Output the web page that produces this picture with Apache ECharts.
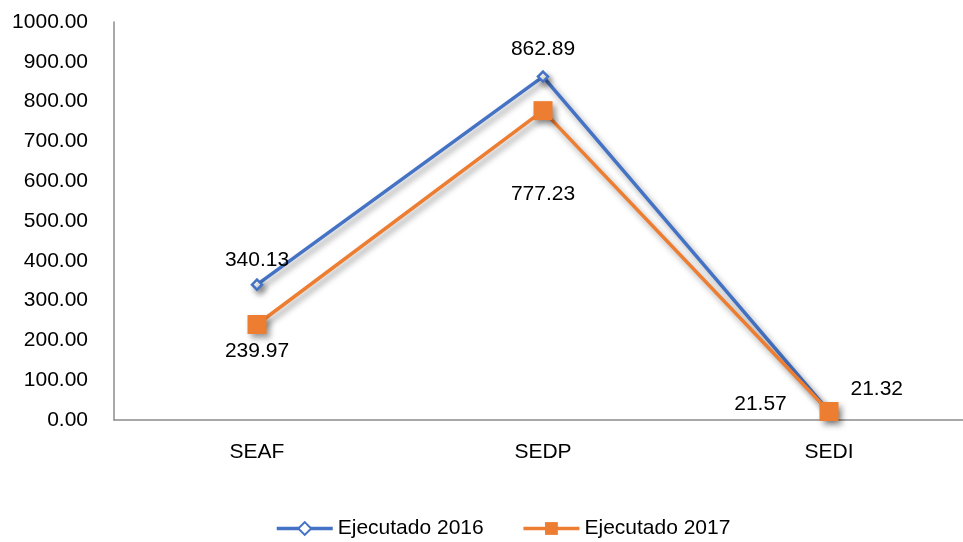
<!DOCTYPE html>
<html>
<head>
<meta charset="utf-8">
<script src="https://cdn.jsdelivr.net/npm/echarts@6/dist/echarts.min.js"></script>
<style>
  html, body { margin: 0; padding: 0; background: #fff; }
  #main { width: 963px; height: 542px; }
</style>
</head>
<body>
<div id="main"></div>
<script>
// categories and values
const categories = ['SEAF', 'SEDP', 'SEDI'];
const ejecutado2016 = [340.13, 862.89, 21.57];
const ejecutado2017 = [239.97, 777.23, 21.32];

const FONT = '"Liberation Sans Narrow", "Liberation Sans", Arial, sans-serif';
const FS = 21;
const BLUE = '#4472C4';
const ORANGE = '#ED7D31';

// label placement per point, like in the original
const labels2016 = [
  { position: 'top', distance: 8 },
  { position: 'top', distance: 11 },
  { position: 'left', distance: 36, offset: [0, -7] }
];
const labels2017 = [
  { position: 'bottom', distance: 7 },
  { position: 'bottom', distance: 64 },
  { position: 'right', distance: 12, offset: [0, -22] }
];

const shadow = {
  shadowColor: 'rgba(0,0,0,0.4)',
  shadowBlur: 6,
  shadowOffsetX: 3,
  shadowOffsetY: 4
};

var myChart = echarts.init(document.getElementById('main'));
myChart.setOption({
  animation: false,
  textStyle: { fontFamily: FONT },
  grid: {
    left: 114,
    top: 22,
    width: 858,
    height: 398,
    containLabel: false,
    outerBoundsMode: 'none'
  },
  legend: {
    top: 513,
    left: 270,
    itemWidth: 56,
    itemHeight: 16,
    itemGap: 38,
    textStyle: { fontFamily: FONT, fontSize: FS, color: '#000' },
    lineStyle: { width: 3.5 },
    data: ['Ejecutado 2016', 'Ejecutado 2017']
  },
  xAxis: {
    type: 'category',
    data: categories,
    axisLine: { lineStyle: { color: '#8c8c8c', width: 1.5 } },
    axisTick: { show: false },
    axisLabel: { fontFamily: FONT, fontSize: FS, color: '#000', margin: 22 }
  },
  yAxis: {
    type: 'value',
    min: 0,
    max: 1000,
    interval: 100,
    splitLine: { show: false },
    axisLine: { show: true, lineStyle: { color: '#8c8c8c', width: 1.5 } },
    axisTick: { show: false },
    axisLabel: {
      fontFamily: FONT,
      fontSize: FS,
      color: '#000',
      margin: 26,
      formatter: (v) => v.toFixed(2)
    }
  },
  series: [
    {
      name: 'Ejecutado 2016',
      type: 'line',
      data: ejecutado2016.map((v, i) => ({
        value: v,
        label: Object.assign({ show: true }, labels2016[i])
      })),
      symbol: 'diamond',
      symbolSize: 10,
      lineStyle: Object.assign({ color: BLUE, width: 3.5 }, shadow),
      itemStyle: Object.assign({ color: '#fff', borderColor: BLUE, borderWidth: 2.5 }, shadow),
      label: {
        fontFamily: FONT,
        fontSize: FS,
        color: '#000',
        formatter: (p) => p.value.toFixed(2)
      },
      z: 3
    },
    {
      name: 'Ejecutado 2017',
      type: 'line',
      data: ejecutado2017.map((v, i) => ({
        value: v,
        label: Object.assign({ show: true }, labels2017[i])
      })),
      symbol: 'rect',
      symbolSize: 19,
      lineStyle: Object.assign({ color: ORANGE, width: 3.5 }, shadow),
      itemStyle: Object.assign({ color: ORANGE, borderColor: ORANGE, borderWidth: 0 }, shadow),
      label: {
        fontFamily: FONT,
        fontSize: FS,
        color: '#000',
        formatter: (p) => p.value.toFixed(2)
      },
      z: 4
    }
  ]
});
</script>
</body>
</html>
